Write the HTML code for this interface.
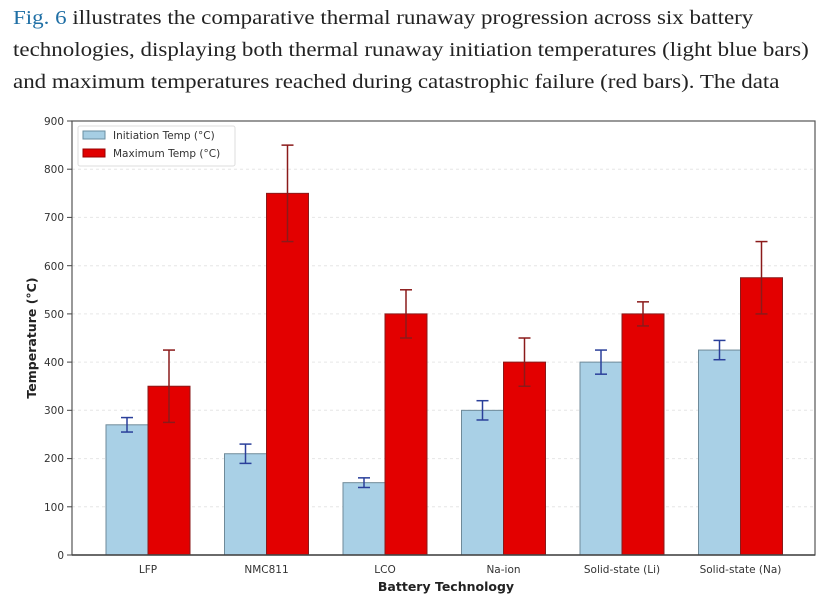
<!DOCTYPE html>
<html><head><style>
body{margin:0;background:#fff;width:832px;height:601px;overflow:hidden}
.t{position:absolute;left:13px;top:2px;font-family:"Liberation Serif",serif;font-size:20.5px;line-height:32px;color:#222;white-space:nowrap;transform-origin:0 0;transform:scaleX(1.12)}
.t span{color:#1f6fa5}
svg{position:absolute;left:0;top:0}
</style></head><body>
<div class="t"><span>Fig. 6</span> illustrates the comparative thermal runaway progression across six battery<br>technologies, displaying both thermal runaway initiation temperatures (light blue bars)<br>and maximum temperatures reached during catastrophic failure (red bars). The data</div>
<svg width="832" height="601" font-family="'DejaVu Sans',sans-serif">
<g stroke="#e6e6e6" stroke-dasharray="3,3" stroke-width="1">
<line x1="72" x2="815" y1="506.8" y2="506.8"/><line x1="72" x2="815" y1="458.6" y2="458.6"/><line x1="72" x2="815" y1="410.3" y2="410.3"/><line x1="72" x2="815" y1="362.1" y2="362.1"/><line x1="72" x2="815" y1="313.9" y2="313.9"/><line x1="72" x2="815" y1="265.7" y2="265.7"/><line x1="72" x2="815" y1="217.4" y2="217.4"/><line x1="72" x2="815" y1="169.2" y2="169.2"/>
</g>
<g id="bars"></g>
<rect x="72" y="121" width="743" height="434" fill="none" stroke="#555" stroke-width="1.2"/>
<line x1="72" x2="815" y1="555" y2="555" stroke="#444" stroke-width="1.5"/>
<g font-size="10.5" fill="#333" text-anchor="end">
<text x="64" y="559">0</text><text x="64" y="511">100</text><text x="64" y="462">200</text><text x="64" y="414">300</text><text x="64" y="366">400</text><text x="64" y="318">500</text><text x="64" y="270">600</text><text x="64" y="221">700</text><text x="64" y="173">800</text><text x="64" y="125">900</text>
</g>
<g stroke="#444"><line x1="67" x2="72" y1="555" y2="555"/><line x1="67" x2="72" y1="506.8" y2="506.8"/><line x1="67" x2="72" y1="458.6" y2="458.6"/><line x1="67" x2="72" y1="410.3" y2="410.3"/><line x1="67" x2="72" y1="362.1" y2="362.1"/><line x1="67" x2="72" y1="313.9" y2="313.9"/><line x1="67" x2="72" y1="265.7" y2="265.7"/><line x1="67" x2="72" y1="217.4" y2="217.4"/><line x1="67" x2="72" y1="169.2" y2="169.2"/><line x1="67" x2="72" y1="121" y2="121"/></g>
<g font-size="10.5" fill="#333" text-anchor="middle">
<text x="148" y="573">LFP</text><text x="266.5" y="573">NMC811</text><text x="385" y="573">LCO</text><text x="503.5" y="573">Na-ion</text><text x="622" y="573">Solid-state (Li)</text><text x="740.5" y="573">Solid-state (Na)</text>
</g>
<text x="446" y="591" font-size="12.5" font-weight="bold" text-anchor="middle" fill="#222">Battery Technology</text>
<text transform="translate(36,338) rotate(-90)" font-size="12.5" font-weight="bold" text-anchor="middle" fill="#222">Temperature (°C)</text>
<rect x="78" y="126" width="157" height="40" fill="#fff" stroke="#ddd" rx="2"/>
<rect x="83" y="131" width="22" height="8" fill="#a6cee3" stroke="#6a8fa0"/>
<rect x="83" y="149" width="22" height="8" fill="#e00000" stroke="#900"/>
<text x="113" y="139" font-size="10.5" fill="#333">Initiation Temp (°C)</text>
<text x="113" y="157" font-size="10.5" fill="#333">Maximum Temp (°C)</text>
</svg>
<script>
const d=[[270,15,350,75],[210,20,750,100],[150,10,500,50],[300,20,400,50],[400,25,500,25],[425,20,575,75]];
const y=v=>555-v*0.4822;let s='';
d.forEach((r,i)=>{const c=148+i*118.5;
const bx=c-42,rx=c;
s+=`<rect x="${bx}" y="${y(r[0])}" width="42" height="${r[0]*0.4822}" fill="#a9d0e6" stroke="#6f8a99" stroke-width="1"/>`;
s+=`<rect x="${rx}" y="${y(r[2])}" width="42" height="${r[2]*0.4822}" fill="#e30000" stroke="#8a1a1a" stroke-width="1"/>`;
const e=(x,v,er,col)=>`<g stroke="${col}" stroke-width="1.5"><line x1="${x}" x2="${x}" y1="${y(v+er)}" y2="${y(v-er)}"/><line x1="${x-6}" x2="${x+6}" y1="${y(v+er)}" y2="${y(v+er)}"/><line x1="${x-6}" x2="${x+6}" y1="${y(v-er)}" y2="${y(v-er)}"/></g>`;
s+=e(c-21,r[0],r[1],'#2a3f9a');s+=e(c+21,r[2],r[3],'#8b1a1a');});
document.getElementById('bars').innerHTML=s;
</script>
</body></html>
